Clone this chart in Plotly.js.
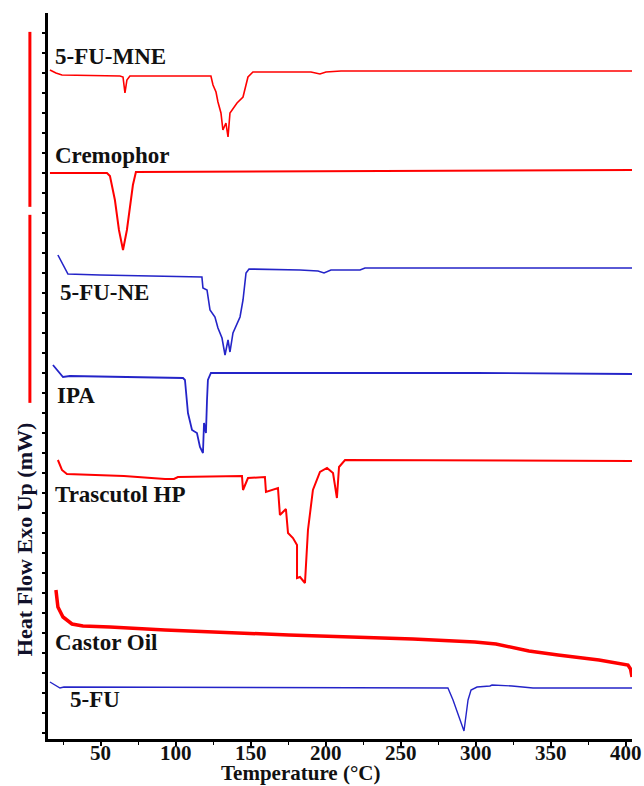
<!DOCTYPE html>
<html>
<head>
<meta charset="utf-8">
<script src="https://cdn.plot.ly/plotly-3.0.1.min.js"></script>
<style>html,body{margin:0;padding:0;background:#fff;}#chart{width:644px;height:786px;}</style>
</head>
<body>
<div id="chart"></div>
<script>
// ---- Data (temperature in °C, heat flow in offset arbitrary units) ----
const seriesNames = ["5-FU-MNE", "Cremophor", "5-FU-NE", "IPA", "Trascutol HP", "Castor Oil", "5-FU"];

const mneT  = [16, 20, 24, 62.7, 64.7, 66, 67.3, 69.3, 123.3, 124.7, 126.7, 128, 130, 131.3, 133.3, 134.7, 136, 140.7, 144.7, 148, 151.3, 190, 196, 200, 210, 300, 404];
const mneHF = [669, 666, 664, 663, 662, 646, 659, 663, 663, 654, 647, 637, 626, 609, 616, 602, 626, 636, 642, 662, 667, 667, 665, 667, 668, 668, 668];

const cremT  = [16, 54, 56, 58, 59.3, 62, 64.7, 67.3, 70, 71.3, 73.3, 200, 404];
const cremHF = [566, 566, 563, 549, 539, 509, 489, 509, 539, 554, 567, 568, 569];

const neT  = [21.3, 28, 49.3, 117.3, 118, 120.7, 122.7, 126, 128, 130.7, 132.7, 134.7, 136, 138, 142.7, 144.7, 146.7, 148.7, 182.7, 194.7, 198.7, 203.3, 222.7, 226, 316, 404];
const neHF = [484, 465, 464, 462, 451, 449, 429, 422, 411, 401, 384, 399, 387, 406, 422, 439, 466, 470, 469, 468, 466, 469, 469, 471, 471, 471];

const ipaT  = [18, 24.7, 29.3, 104.7, 106, 107.3, 108, 110.7, 114, 116, 118, 118.7, 120, 120.7, 121.3, 123.3, 300, 404];
const ipaHF = [374, 362, 363, 361, 359, 336, 326, 309, 306, 292, 286, 316, 306, 339, 359, 366, 366, 365];

const trasT  = [21.3, 24, 27.3, 65.3, 92.7, 98.7, 101.3, 144, 144.7, 148, 159.3, 160, 168, 169.3, 173.3, 174.7, 178, 180.7, 180.7, 182.7, 186, 188, 191.3, 196, 200.7, 204.7, 207.3, 208.7, 212.7, 404];
const trasHF = [279, 269, 265, 263, 260, 260, 262, 263, 249, 261, 262, 247, 251, 224, 230, 206, 201, 194, 161, 162, 156, 209, 249, 267, 271, 266, 241, 272, 279, 278];

const castorT  = [20, 21.3, 24.7, 30.7, 38, 56, 92.7, 175.3, 258, 299.3, 313.3, 335.3, 354.7, 382, 401.3, 403, 404];
const castorHF = [149, 132, 122, 115, 113, 112, 109, 104, 100, 97, 95, 88, 84, 79, 74, 70, 62];

const fuT  = [16, 22.7, 25.3, 281.3, 284.7, 288, 292, 294.7, 296.7, 300.7, 309.3, 310.7, 324, 338, 404];
const fuHF = [57, 51, 52, 51, 39, 24, 8, 39, 49, 52, 53, 54, 53, 51, 51];

const xTickVals = [50, 100, 150, 200, 250, 300, 350, 400];
const xTickText = ["50", "100", "150", "200", "250", "300", "350", "400"];

// ---- Styles ----
const RED = "#ff0000", BLUE = "#2424c8";
const serif = "Liberation Serif";

function tr(x, y, color, w) {
  return {x: x, y: y, type: "scatter", mode: "lines", line: {color: color, width: w, shape: "linear"}, hoverinfo: "skip", showlegend: false};
}

const traces = [
  tr(mneT, mneHF, RED, 1.6),
  tr(cremT, cremHF, RED, 2),
  tr(neT, neHF, BLUE, 1.6),
  tr(ipaT, ipaHF, BLUE, 1.8),
  tr(trasT, trasHF, RED, 2),
  tr(castorT, castorHF, RED, 3.5),
  tr(fuT, fuHF, BLUE, 1.4)
];

// label positions: [paper x of left edge, y value of text centre]
const labelPos = [[0.008, 683], [0.008, 584], [0.017, 447], [0.012, 344], [0.008, 245], [0.008, 97], [0.034, 40]];

const annotations = seriesNames.map((n, i) => ({
  text: n, xref: "paper", yref: "y", x: labelPos[i][0], y: labelPos[i][1],
  xanchor: "left", yanchor: "middle", showarrow: false,
  font: {family: serif, size: 23, weight: "bold", color: "#111"}
}));
// x tick labels (drawn as annotations on the x scale for exact placement)
xTickVals.forEach((v, i) => annotations.push({
  text: xTickText[i], xref: "x", yref: "paper", x: v, y: -0.019,
  xanchor: "center", yanchor: "middle", showarrow: false, borderpad: 0,
  font: {family: serif, size: 21, weight: "bold", color: "#111"}
}));
annotations.push({
  text: "Heat Flow Exo Up (mW)", xref: "paper", yref: "paper", x: -0.041, y: 0.274,
  xanchor: "center", yanchor: "middle", textangle: -90, showarrow: false,
  font: {family: serif, size: 22, weight: "bold", color: "#10102a"}
});
annotations.push({
  text: "Temperature (°C)", xref: "paper", yref: "paper", x: 0.433, y: -0.047,
  xanchor: "center", yanchor: "middle", showarrow: false, borderpad: 0,
  font: {family: serif, size: 21, weight: "bold", color: "#111"}
});

const shapes = [
  {type: "line", xref: "paper", yref: "paper", x0: -0.031, x1: -0.031, y0: 0.974, y1: 0.733, line: {color: RED, width: 3}},
  {type: "line", xref: "paper", yref: "paper", x0: -0.031, x1: -0.031, y0: 0.722, y1: 0.463, line: {color: RED, width: 3}}
];

// y tick marks every 20 units (no labels), stopping below the axis top
const yTickVals = [];
for (let v = 6; v <= 706; v += 20) yTickVals.push(v);

const layout = {
  width: 644, height: 786,
  margin: {l: 48, r: 12, t: 13, b: 47},
  paper_bgcolor: "#fff", plot_bgcolor: "#fff",
  showlegend: false,
  font: {family: serif},
  xaxis: {
    range: [14.7, 404], showgrid: false, zeroline: false,
    showline: true, linecolor: "#000", linewidth: 3,
    tickmode: "array", tickvals: xTickVals, showticklabels: false,
    ticks: "outside", ticklen: 4, tickwidth: 1.5, tickcolor: "#000",
    minor: {dtick: 25, tick0: 0, ticks: "outside", ticklen: 3, tickwidth: 1, tickcolor: "#000"}
  },
  yaxis: {
    range: [0, 726], showgrid: false, zeroline: false,
    showline: true, linecolor: "#000", linewidth: 3,
    tickmode: "array", tickvals: yTickVals,
    ticks: "outside", ticklen: 3, tickwidth: 1.5, tickcolor: "#000",
    showticklabels: false
  },
  annotations: annotations,
  shapes: shapes
};

Plotly.newPlot("chart", traces, layout, {displayModeBar: false, staticPlot: true});
</script>
</body>
</html>
